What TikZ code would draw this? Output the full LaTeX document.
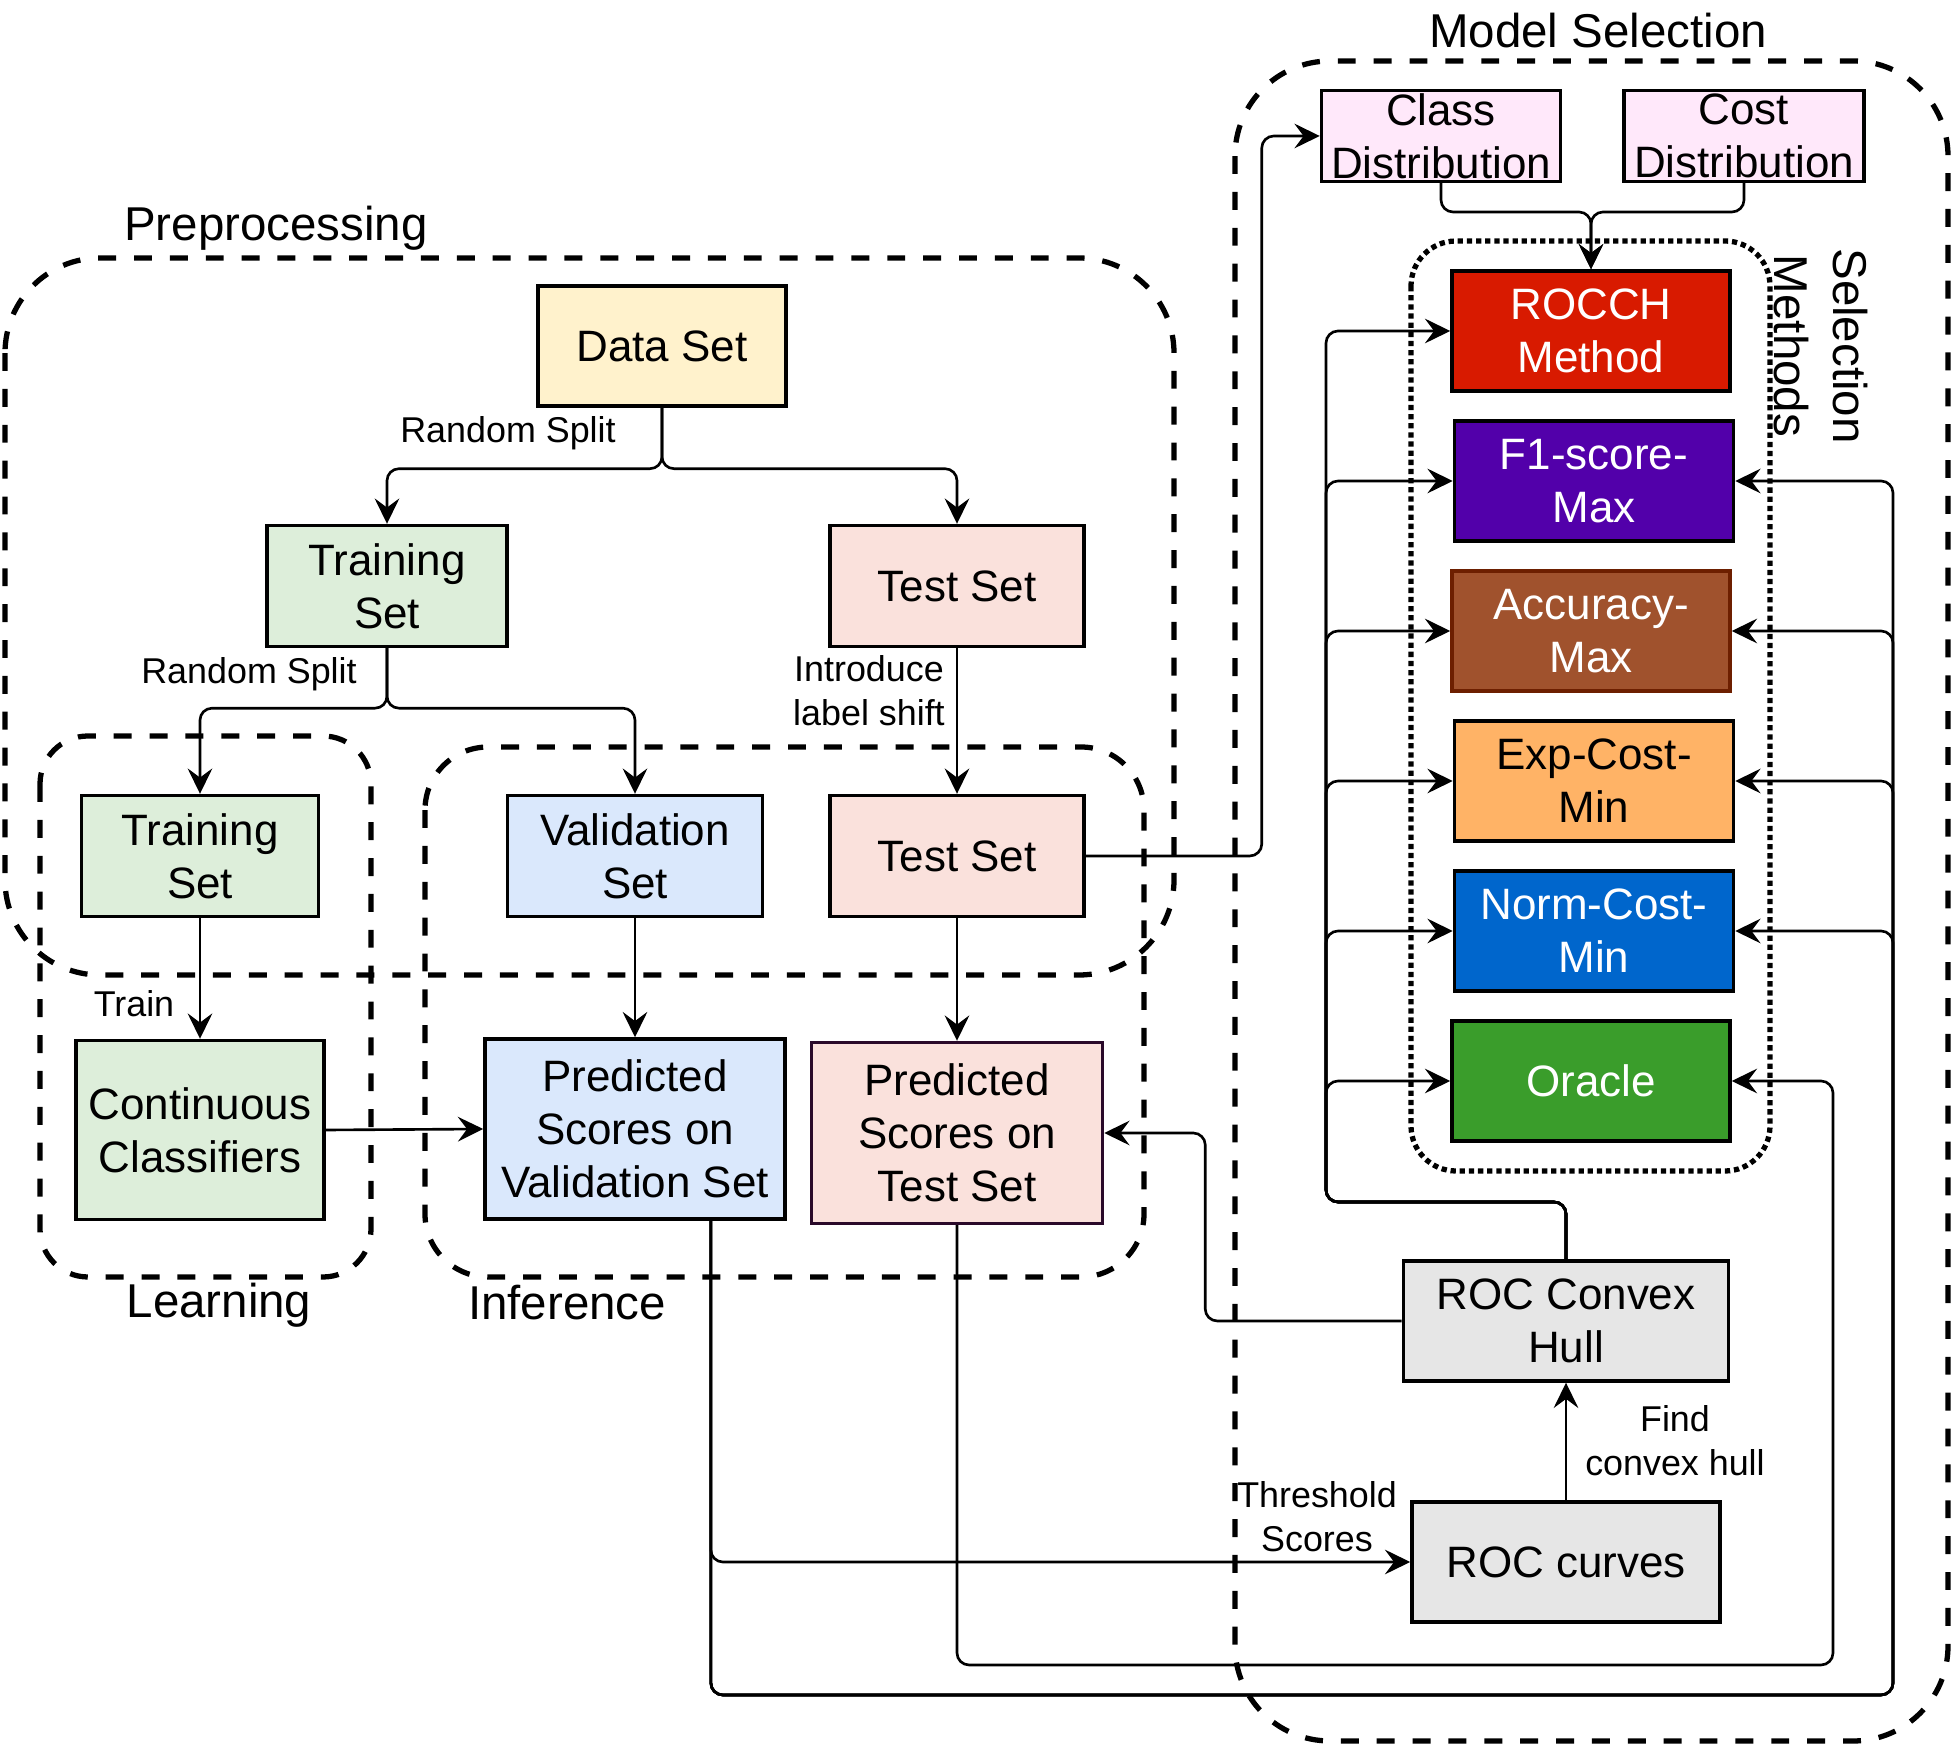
\documentclass[tikz,border=0pt]{standalone}
\usepackage{fontspec}
\setmainfont{Liberation Sans}
\usetikzlibrary{arrows.meta,calc}

\definecolor{dsyellow}{HTML}{FFF2CC}
\definecolor{trgreen}{HTML}{DDEEDA}
\definecolor{tspink}{HTML}{FAE1DC}
\definecolor{valblue}{HTML}{DAE8FC}
\definecolor{distpink}{HTML}{FFE8FA}
\definecolor{ptborder}{HTML}{2A0A2A}
\definecolor{rocchred}{HTML}{D81A00}
\definecolor{fonepurple}{HTML}{5200AA}
\definecolor{accbrown}{HTML}{A0522D}
\definecolor{accborder}{HTML}{6D1F00}
\definecolor{exporange}{HTML}{FFB366}
\definecolor{normblue}{HTML}{0066CC}
\definecolor{oraclegreen}{HTML}{3A9D2B}
\definecolor{rocgrey}{HTML}{E6E6E6}

\begin{document}
\begin{tikzpicture}[x=0.01cm,y=-0.01cm,
	box/.style={draw=black, line width=0.95pt, inner sep=0pt, align=center, font=\fontsize{12.5}{15}\selectfont},
	method/.style={box, minimum width=2.78cm, minimum height=1.20cm},
	edge/.style={line width=0.75pt, rounded corners=0.12cm, -{Stealth[length=7.2pt,width=7pt,inset=2.6pt]}},
	lbl/.style={inner sep=0pt, align=center, font=\fontsize{10.2}{12.6}\selectfont},
	title/.style={inner sep=0pt, align=center, font=\fontsize{13.5}{17}\selectfont},
	group/.style={line width=1.5pt, dash pattern=on 5.1pt off 5.1pt}]

	\useasboundingbox (0,0) rectangle (1953,1746);

	% Groups
	\draw[group, rounded corners=0.95cm] (5,258) rectangle (1174,975);
	\draw[group, rounded corners=0.48cm] (40,736) rectangle (371,1277);
	\draw[group, rounded corners=0.63cm] (425,747) rectangle (1144,1277);
	\draw[group, rounded corners=0.95cm] (1235,61) rectangle (1948,1741);
	\draw[line width=1.5pt, dash pattern=on 1.5pt off 1.1pt, rounded corners=0.45cm] (1411,241) rectangle (1770,1171);

	\node[title] (tprep) at (276,228) {Preprocessing};
	\node[title] (tlearn) at (219,1305) {Learning};
	\node[title] (tinf) at (567,1303) {Inference};
	\node[title] (tmodel) at (1598,31) {Model Selection};
	\node[title, rotate=-90] (tsel) at (1821,346) {Selection\\Methods};

	% Data sets
	\node[box, fill=dsyellow, minimum width=2.48cm, minimum height=1.20cm] (ds) at (662,346) {Data Set};
	\node[box, fill=trgreen, minimum width=2.40cm, minimum height=1.21cm] (tr) at (387,586) {Training\\Set};
	\node[box, fill=tspink, minimum width=2.54cm, minimum height=1.21cm] (ts) at (957,586) {Test Set};
	\node[box, fill=trgreen, minimum width=2.37cm, minimum height=1.21cm] (tr2) at (200,856) {Training\\Set};
	\node[box, fill=valblue, minimum width=2.55cm, minimum height=1.21cm] (val) at (635,856) {Validation\\Set};
	\node[box, fill=tspink, minimum width=2.54cm, minimum height=1.21cm] (ts2) at (957,856) {Test Set};

	% Learning and inference
	\node[box, fill=trgreen, minimum width=2.48cm, minimum height=1.79cm] (cc) at (200,1130) {Continuous\\Classifiers};
	\node[box, fill=valblue, minimum width=3.00cm, minimum height=1.80cm] (pv) at (635,1129) {Predicted\\Scores on\\Validation Set};
	\node[box, fill=tspink, draw=ptborder, minimum width=2.91cm, minimum height=1.81cm] (pt) at (957,1133) {Predicted\\Scores on\\Test Set};

	% Model selection
	\node[box, fill=distpink, minimum width=2.39cm, minimum height=0.91cm] (cd) at (1441,136) {Class\\Distribution};
	\node[box, fill=distpink, minimum width=2.40cm, minimum height=0.91cm] (cost) at (1744,136) {Cost\\Distribution};
	\node[method, fill=rocchred, text=white] (rocch) at (1591,331) {ROCCH\\Method};
	\node[method, fill=fonepurple, text=white, minimum width=2.79cm] (fone) at (1594,481) {F1-score-\\Max};
	\node[method, fill=accbrown, draw=accborder, text=white] (acc) at (1591,631) {Accuracy-\\Max};
	\node[method, fill=exporange, minimum width=2.79cm] (exp) at (1594,781) {Exp-Cost-\\Min};
	\node[method, fill=normblue, text=white, minimum width=2.79cm] (norm) at (1594,931) {Norm-Cost-\\Min};
	\node[method, fill=oraclegreen, text=white] (oracle) at (1591,1081) {Oracle};
	\node[box, fill=rocgrey, minimum width=3.25cm, minimum height=1.20cm] (rch) at (1566,1321) {ROC Convex\\Hull};
	\node[box, fill=rocgrey, minimum width=3.08cm, minimum height=1.20cm] (roc) at (1566,1562) {ROC curves};

	\coordinate (pvout) at ($(pv.south west)!0.75!(pv.south east)$);
	\coordinate (lbus) at (1326,1202);
	\coordinate (rbus) at (1893,1695);
	\coordinate (obus) at (1833,1665);
	\coordinate (merge) at (1591,212);

	% Connectors
	\draw[edge] (ds.south) -- ++(0,61) -| (tr.north);
	\draw[edge] (ds.south) -- ++(0,61) -| (ts.north);
	\draw[edge] (tr.south) -- ++(0,60) -| (tr2.north);
	\draw[edge] (tr.south) -- ++(0,60) -| (val.north);
	\draw[edge] (ts.south) -- (ts2.north);
	\draw[edge] (tr2.south) -- (cc.north);
	\draw[edge] (val.south) -- (pv.north);
	\draw[edge] (ts2.south) -- (pt.north);
	\draw[edge] (cc.east) -- (pv.west);

	\draw[edge] (ts2.east) -| ($(cd.west)+(-58,0)$) -- (cd.west);
	\draw[edge] (cd.south) |- (merge) -- (rocch.north);
	\draw[edge] (cost.south) |- (merge) -- (rocch.north);

	\foreach \m in {rocch,fone,acc,exp,norm,oracle}
		\draw[edge] (rch.north) |- (lbus) |- (\m.west);
	\draw[edge] (rch.west) -| ($(pt.east)+(101,0)$) -- (pt.east);
	\draw[edge] (roc.north) -- (rch.south);
	\draw[edge] (pvout) |- (roc.west);
	\foreach \m in {fone,acc,exp,norm}
		\draw[edge] (pvout) |- (rbus) |- (\m.east);
	\draw[edge] (pt.south) |- (obus) |- (oracle.east);

	% Labels
	\node[lbl] (lsplita) at (508,433) {Random Split};
	\node[lbl] (lsplitb) at (249,674) {Random Split};
	\node[lbl] (lshift) at (869,691) {Introduce\\label shift};
	\node[lbl] (ltrain) at (134,1004) {Train};
	\node[lbl] (lthresh) at (1317,1517) {Threshold\\Scores};
	\node[lbl] (lhull) at (1675,1441) {Find\\convex hull};

\end{tikzpicture}
\end{document}
